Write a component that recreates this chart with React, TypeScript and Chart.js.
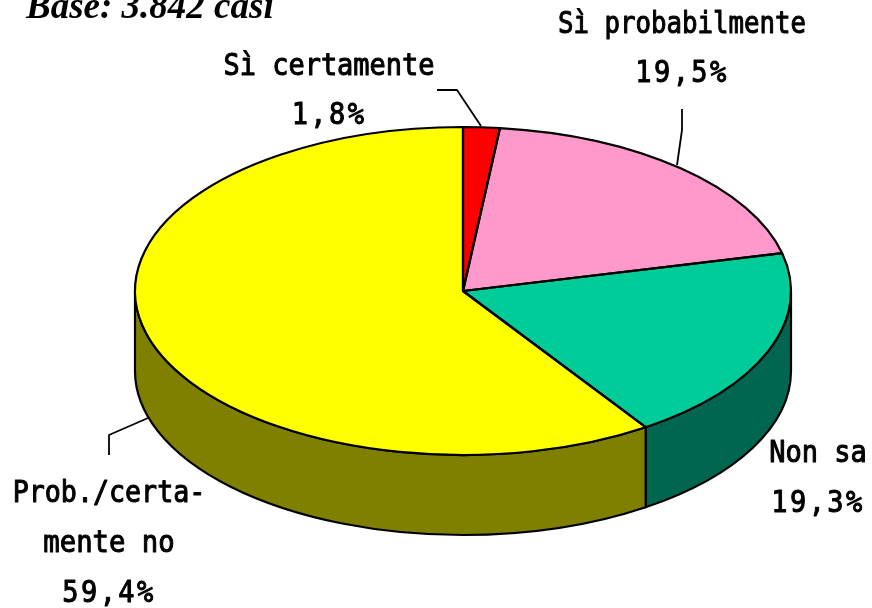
import { useEffect, useRef } from "react";
import { Chart, registerables } from "chart.js";

Chart.register(...registerables);

const categories = ["Sì certamente", "Sì probabilmente", "Non sa", "Prob./certamente no"];
const shares = [1.8, 19.5, 19.3, 59.4];
const topColors = ["#ff0000", "#ff99cc", "#00cc99", "#ffff00"];
const sideColors = ["#800000", "#804c66", "#006650", "#808000"];
const titleText = "Base: 3.842 casi";
const labelLines = [
  ["Sì certamente", "1,8%"],
  ["Sì probabilmente", "19,5%"],
  ["Non sa", "19,3%"],
  ["Prob./certa-", "mente no", "59,4%"],
];

const CX = 463, CY = 291, RX = 328, RY = 164, DEPTH = 80;
const FONT = "31px 'DejaVu Sans Mono'";
const labelPlacement = [
  { x: 329, y: [75, 124], squeeze: [0.87, 0.87], spacing: [0, 2.8] },
  { x: 682, y: [33, 82], squeeze: [0.83, 0.87], spacing: [0, 2.8] },
  { x: 818, y: [462, 512], squeeze: [0.87, 0.87], spacing: [0, 2.8] },
  { x: 109, y: [502, 552, 602], squeeze: [0.86, 0.88, 0.87], spacing: [0, 0, 2.8] },
];
const leaders = [
  [[437, 90], [457, 90], [481, 126]],
  [[682, 109], [682, 130], [677, 165]],
  [[109, 455], [109, 435], [148, 418]],
];

const pie3d = {
  id: "pie3d",
  beforeDatasetsDraw(chart: any) {
    const { ctx } = chart;
    const arcs = chart.getDatasetMeta(0).data;
    const px = (a: number) => CX + RX * Math.cos(a);
    const py = (a: number, d = 0) => CY + d + RY * Math.sin(a);
    ctx.save();
    ctx.lineWidth = 2.2;
    ctx.strokeStyle = "#000";
    ctx.lineJoin = "round";
    arcs.forEach((arc: any, i: number) => {
      const s = Math.max(arc.startAngle, 0);
      const e = Math.min(arc.endAngle, Math.PI);
      if (e <= s) return;
      ctx.beginPath();
      ctx.ellipse(CX, CY, RX, RY, 0, s, e);
      ctx.lineTo(px(e), py(e, DEPTH));
      ctx.ellipse(CX, CY + DEPTH, RX, RY, 0, e, s, true);
      ctx.closePath();
      ctx.fillStyle = sideColors[i];
      ctx.fill();
      ctx.stroke();
    });
    arcs.forEach((arc: any) => {
      ctx.save();
      ctx.translate(CX, CY);
      ctx.scale(RX / arc.outerRadius, RY / arc.outerRadius);
      ctx.translate(-arc.x, -arc.y);
      arc.draw(ctx);
      ctx.restore();
    });
    arcs.forEach((arc: any) => {
      ctx.beginPath();
      ctx.moveTo(CX, CY);
      ctx.ellipse(CX, CY, RX, RY, 0, arc.startAngle, arc.endAngle);
      ctx.closePath();
      ctx.stroke();
    });
    ctx.lineWidth = 1.8;
    leaders.forEach((pts) => {
      ctx.beginPath();
      pts.forEach((p, k) => (k ? ctx.lineTo(p[0], p[1]) : ctx.moveTo(p[0], p[1])));
      ctx.stroke();
    });
    ctx.fillStyle = "#000";
    ctx.textAlign = "center";
    ctx.textBaseline = "alphabetic";
    ctx.font = FONT;
    ctx.lineWidth = 1.1;
    labelLines.forEach((lines, i) => {
      const place = labelPlacement[i];
      lines.forEach((t, k) => {
        ctx.save();
        ctx.translate(place.x, place.y[k]);
        ctx.scale(place.squeeze[k], 1);
        ctx.letterSpacing = `${place.spacing[k]}px`;
        ctx.fillText(t, 0, 0);
        ctx.strokeText(t, 0, 0);
        ctx.restore();
      });
    });
    ctx.textAlign = "left";
    ctx.font = "italic bold 37px 'Liberation Serif'";
    ctx.fillText(titleText, 26, 18);
    ctx.restore();
    return false;
  },
};

export default function App() {
  const ref = useRef<HTMLCanvasElement>(null);
  useEffect(() => {
    const chart = new Chart(ref.current!, {
      type: "pie",
      data: {
        labels: categories,
        datasets: [{ data: shares, backgroundColor: topColors, borderWidth: 0 }],
      },
      options: {
        animation: false,
        responsive: false,
        plugins: { legend: { display: false }, tooltip: { enabled: false } },
      },
      plugins: [pie3d],
    });
    return () => chart.destroy();
  }, []);
  return (
    <div style={{ position: "absolute", left: 0, top: 0, width: 872, height: 608, background: "#fff" }}>
      <canvas ref={ref} width={872} height={608} style={{ display: "block" }} />
    </div>
  );
}
